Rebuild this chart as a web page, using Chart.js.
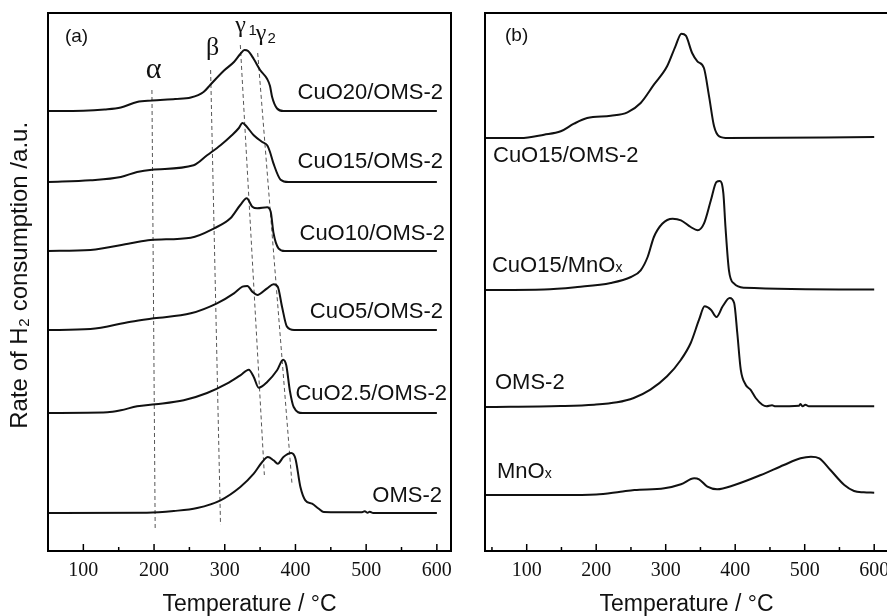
<!DOCTYPE html>
<html><head><meta charset="utf-8">
<script src="https://cdn.jsdelivr.net/npm/chart.js@4/dist/chart.umd.min.js"></script>
<style>
html,body{margin:0;padding:0;background:#fff;overflow:hidden;}
#wrap{position:relative;width:887px;height:616px;overflow:hidden;background:#fff;}
#ca{position:absolute;left:0;top:0;}
#cb{position:absolute;left:460px;top:0;}
</style></head><body>
<div id="wrap"><canvas id="ca" width="460" height="616"></canvas><canvas id="cb" width="430" height="616"></canvas></div>
<script>
// ---------- tick labels ----------
const xTickLabels = [100, 200, 300, 400, 500, 600];
const xMinorTicks = [50, 150, 250, 350, 450, 550];

// ---------- panel (a): temperatures (°C) and H2 signal above each baseline (a.u.) ----------
const a_cuo20_T = [50, 100, 130, 153, 176, 197, 230, 252, 270, 280, 299, 313, 322, 328, 333, 341, 350, 360, 364, 367, 374, 383, 450, 600];
const a_cuo20_I = [0, 0.3, 1.5, 3.5, 9, 10.5, 12, 13.5, 19, 26.5, 40.5, 49, 57, 61, 60, 52, 41, 32, 25, 14, 2.5, 0, 0, 0];
const a_cuo15_T = [50, 110, 153, 176, 197, 256, 275, 294, 310, 320, 325, 329, 341, 353, 360, 364, 369, 379, 390, 600];
const a_cuo15_I = [0, 1.7, 5, 10, 12.3, 16.7, 26.7, 36.7, 46.7, 54, 59, 57, 46.7, 40, 36.7, 30, 18.3, 2.3, 0, 0];
const a_cuo10_T = [50, 110, 167, 195, 252, 285, 308, 322, 331, 339, 346, 360, 365, 369, 376, 385, 600];
const a_cuo10_I = [0, 1, 7.7, 11, 13.3, 22.7, 32.7, 46, 52.7, 44.3, 42.7, 43.7, 39.3, 17.7, 2.7, 0, 0];
const a_cuo5_T = [50, 110, 167, 200, 252, 289, 313, 325, 332, 339, 346, 360, 369, 375, 381, 388, 398, 600];
const a_cuo5_I = [0, 1, 8.3, 11.7, 16.7, 26.7, 36.7, 43.3, 44, 38.3, 35, 41.7, 45.7, 43.3, 23.3, 3.3, 0, 0];
const a_cuo25_T = [50, 134, 153, 176, 202, 242, 275, 303, 322, 334, 341, 348, 360, 374, 382.5, 387, 392, 397.5, 410, 600];
const a_cuo25_I = [0, 0.7, 2.7, 6.7, 8.7, 12.7, 20, 29.3, 37.7, 43.3, 36, 25.3, 31, 42.7, 53.3, 47.7, 22.7, 6, 0, 0];
const a_oms_T = [50, 190, 228, 261, 294, 322, 341, 353, 361, 369, 375, 383, 394, 400, 407, 414, 423.5, 433, 440, 493, 498, 502, 505, 510, 600];
const a_oms_I = [0, 0.3, 2, 5, 12.7, 26, 39.3, 51, 56, 52.7, 49.3, 56, 60, 54.3, 26, 12.7, 9.3, 4.3, 1, 0.7, 1.7, 0.3, 1.3, 0, 0];
const panelA_names = ['CuO20/OMS-2', 'CuO15/OMS-2', 'CuO10/OMS-2', 'CuO5/OMS-2', 'CuO2.5/OMS-2', 'OMS-2'];
const panelA_offsets = [440, 369, 300, 221, 138, 38];

// dashed guide lines (alpha, beta, gamma1, gamma2): top and bottom points
const guideTop_T = [197, 280, 322, 346.6];
const guideTop_V = [461, 481, 506, 498];
const guideBot_T = [201.6, 294, 356, 395];
const guideBot_V = [21, 26, 76, 68];

// ---------- panel (b) ----------
const b_cuo15oms_T = [40, 91, 125, 149, 168, 187, 221, 245, 264, 283, 302, 314, 322.6, 329, 338, 345.6, 355, 362.4, 369.6, 377, 390, 600];
const b_cuo15oms_I = [0, 0, 3.3, 6.7, 14.3, 20, 22.3, 25.7, 35, 53.3, 71.7, 91.7, 104.3, 102.3, 85, 76.7, 70, 41.7, 11.7, 1.7, 0, 1];
const b_cuo15mn_T = [40, 125, 173, 221, 250, 264, 274, 283, 295, 310, 322, 336, 346, 355, 365, 373, 378, 383, 386, 391, 398.5, 413, 600];
const b_cuo15mn_I = [0, 0.5, 3, 7, 13, 19.7, 33, 53, 66.3, 71.3, 69.7, 63, 59.7, 66.3, 89.7, 108, 109, 96.3, 63, 19.7, 6.3, 2.3, 0.5];
const b_oms_T = [40, 149, 197, 230, 254, 278, 302, 322, 336, 348, 356, 365, 373, 382, 392, 398.5, 403, 408, 415, 422, 429.5, 439, 445, 453, 458, 492, 494, 497, 501, 506, 600];
const b_oms_I = [0, 1, 2.3, 4.7, 9, 17.3, 30.7, 47.3, 64, 87.3, 100.7, 97.3, 90, 100.7, 109, 104, 74, 37.3, 22.3, 17.3, 9, 2.3, 0.7, 1.7, 0.7, 1.3, 3, 0.7, 2.3, 0.7, 0.7];
const b_mnox_T = [40, 150, 200, 235, 255, 298, 322, 341, 348, 360, 374, 399, 437, 470, 494, 509, 521, 537, 557, 571, 585, 600];
const b_mnox_I = [0, 0, 0.5, 3.3, 5, 6.7, 10.7, 16.7, 15.7, 8.3, 5.7, 10, 20, 30, 36.7, 38.3, 36.7, 25, 10, 4, 2.7, 2.3];
const panelB_names = ['CuO15/OMS-2', 'CuO15/MnOx', 'OMS-2', 'MnOx'];
const panelB_offsets = [413, 261, 144, 56];

// ---------- build ----------
const panelA_T = [a_cuo20_T, a_cuo15_T, a_cuo10_T, a_cuo5_T, a_cuo25_T, a_oms_T];
const panelA_I = [a_cuo20_I, a_cuo15_I, a_cuo10_I, a_cuo5_I, a_cuo25_I, a_oms_I];
const panelB_T = [b_cuo15oms_T, b_cuo15mn_T, b_oms_T, b_mnox_T];
const panelB_I = [b_cuo15oms_I, b_cuo15mn_I, b_oms_I, b_mnox_I];

function curve(label, T, I, off) {
  return {
    label, data: T.map((t, i) => ({x: t, y: off + I[i]})),
    borderColor: '#111', borderWidth: 2, pointRadius: 0, fill: false,
    cubicInterpolationMode: 'monotone'
  };
}
const dsA = panelA_names.map((n, k) => curve(n, panelA_T[k], panelA_I[k], panelA_offsets[k]));
guideTop_T.forEach((t, k) => dsA.push({
  label: 'guide' + k,
  data: [{x: t, y: guideTop_V[k]}, {x: guideBot_T[k], y: guideBot_V[k]}],
  borderColor: '#555', borderWidth: 1, borderDash: [4, 3], pointRadius: 0, fill: false, tension: 0
}));
const dsB = panelB_names.map((n, k) => curve(n, panelB_T[k], panelB_I[k], panelB_offsets[k]));

const SANS = '"Liberation Sans", Arial, sans-serif';
const SERIF = '"Liberation Serif", "Times New Roman", serif';

const decor = {
  id: 'decor',
  afterDatasetsDraw(chart, args, o) {
    const {ctx, chartArea: a, scales: {x, y}} = chart;
    ctx.save();
    ctx.strokeStyle = '#000';
    ctx.lineWidth = 1.5;
    xTickLabels.concat(xMinorTicks).forEach(v => {
      if (v <= x.min) return;
      const px = x.getPixelForValue(v);
      const len = xTickLabels.includes(v) ? 7 : 4;
      ctx.beginPath(); ctx.moveTo(px, a.bottom); ctx.lineTo(px, a.bottom - len); ctx.stroke();
    });
    ctx.lineWidth = 2;
    ctx.strokeRect(a.left, a.top, a.right - a.left, a.bottom - a.top);
    ctx.fillStyle = '#111';
    ctx.textBaseline = 'alphabetic';
    o.texts.forEach(tx => {
      ctx.font = tx.font;
      ctx.textAlign = tx.align || 'left';
      const px = x.getPixelForValue(tx.t), py = y.getPixelForValue(tx.v);
      ctx.fillText(tx.text, px, py);
      if (tx.sub) {
        const w = ctx.measureText(tx.text).width;
        ctx.font = tx.subFont;
        ctx.textAlign = 'left';
        ctx.fillText(tx.sub, px + w, py);
      }
    });
    ctx.restore();
  }
};

function makeChart(id, datasets, xmin, xmax, yWidth, yTitle, padRight, texts) {
  return new Chart(document.getElementById(id), {
    type: 'line',
    data: {datasets},
    plugins: [decor],
    options: {
      responsive: false, animation: false, devicePixelRatio: 1,
      layout: {padding: {top: 13, right: padRight, left: 0, bottom: 0}},
      plugins: {legend: {display: false}, tooltip: {enabled: false}, decor: {texts}},
      scales: {
        x: {
          type: 'linear', min: xmin, max: xmax,
          afterBuildTicks: s => { s.ticks = xTickLabels.map(v => ({value: v})); },
          afterFit: s => { s.height = 65; },
          grid: {display: false}, border: {display: false},
          ticks: {color: '#111', font: {family: SERIF, size: 20}, padding: 0, maxRotation: 0, autoSkip: false},
          title: {display: true, text: 'Temperature / °C', color: '#111',
                  font: {family: SANS, size: 23, lineHeight: 1}, padding: {top: 0, bottom: 0}}
        },
        y: {
          type: 'linear', min: 0, max: 538,
          afterFit: s => { s.width = yWidth; },
          grid: {display: false}, border: {display: false},
          ticks: {display: false},
          title: {display: !!yTitle, text: yTitle || '', color: '#111',
                  font: {family: SANS, size: 24, lineHeight: 1}, padding: {top: 8, bottom: 0}}
        }
      }
    }
  });
}

const textsA = [
  {text: '(a)', t: 74, v: 509, font: '19px ' + SANS},
  {text: 'α', t: 199.2, v: 473, font: '30px ' + SERIF, align: 'center'},
  {text: 'β', t: 282.7, v: 496, font: '26px ' + SERIF, align: 'center'},
  {text: 'γ', t: 322.3, v: 519, font: '24px ' + SERIF, align: 'center'},
  {text: '1', t: 333.5, v: 516, font: '15px ' + SANS},
  {text: 'γ', t: 351.3, v: 511, font: '24px ' + SERIF, align: 'center'},
  {text: '2', t: 360.5, v: 508, font: '15px ' + SANS},
  {text: panelA_names[0], t: 608.7, v: 452, font: '22px ' + SANS, align: 'right'},
  {text: panelA_names[1], t: 608.7, v: 383, font: '22px ' + SANS, align: 'right'},
  {text: panelA_names[2], t: 611.5, v: 311, font: '22px ' + SANS, align: 'right'},
  {text: panelA_names[3], t: 608.7, v: 233, font: '22px ' + SANS, align: 'right'},
  {text: panelA_names[4], t: 614.4, v: 151, font: '22px ' + SANS, align: 'right'},
  {text: panelA_names[5], t: 607.3, v: 49, font: '22px ' + SANS, align: 'right'}
];
const textsB = [
  {text: '(b)', t: 68.8, v: 510, font: '19px ' + SANS},
  {text: 'CuO15/OMS-2', t: 51.5, v: 389, font: '22px ' + SANS},
  {text: 'CuO15/MnO', sub: 'x', t: 50, v: 279, font: '22px ' + SANS, subFont: '14px ' + SANS},
  {text: 'OMS-2', t: 54.4, v: 162, font: '22px ' + SANS},
  {text: 'MnO', sub: 'x', t: 57.3, v: 73, font: '22px ' + SANS, subFont: '14px ' + SANS}
];

makeChart('ca', dsA, 50, 620, 48, '  Rate of H₂ consumption /a.u.', 9, textsA);
makeChart('cb', dsB, 40, 620, 25, '', 1.9, textsB);
</script>
</body></html>
